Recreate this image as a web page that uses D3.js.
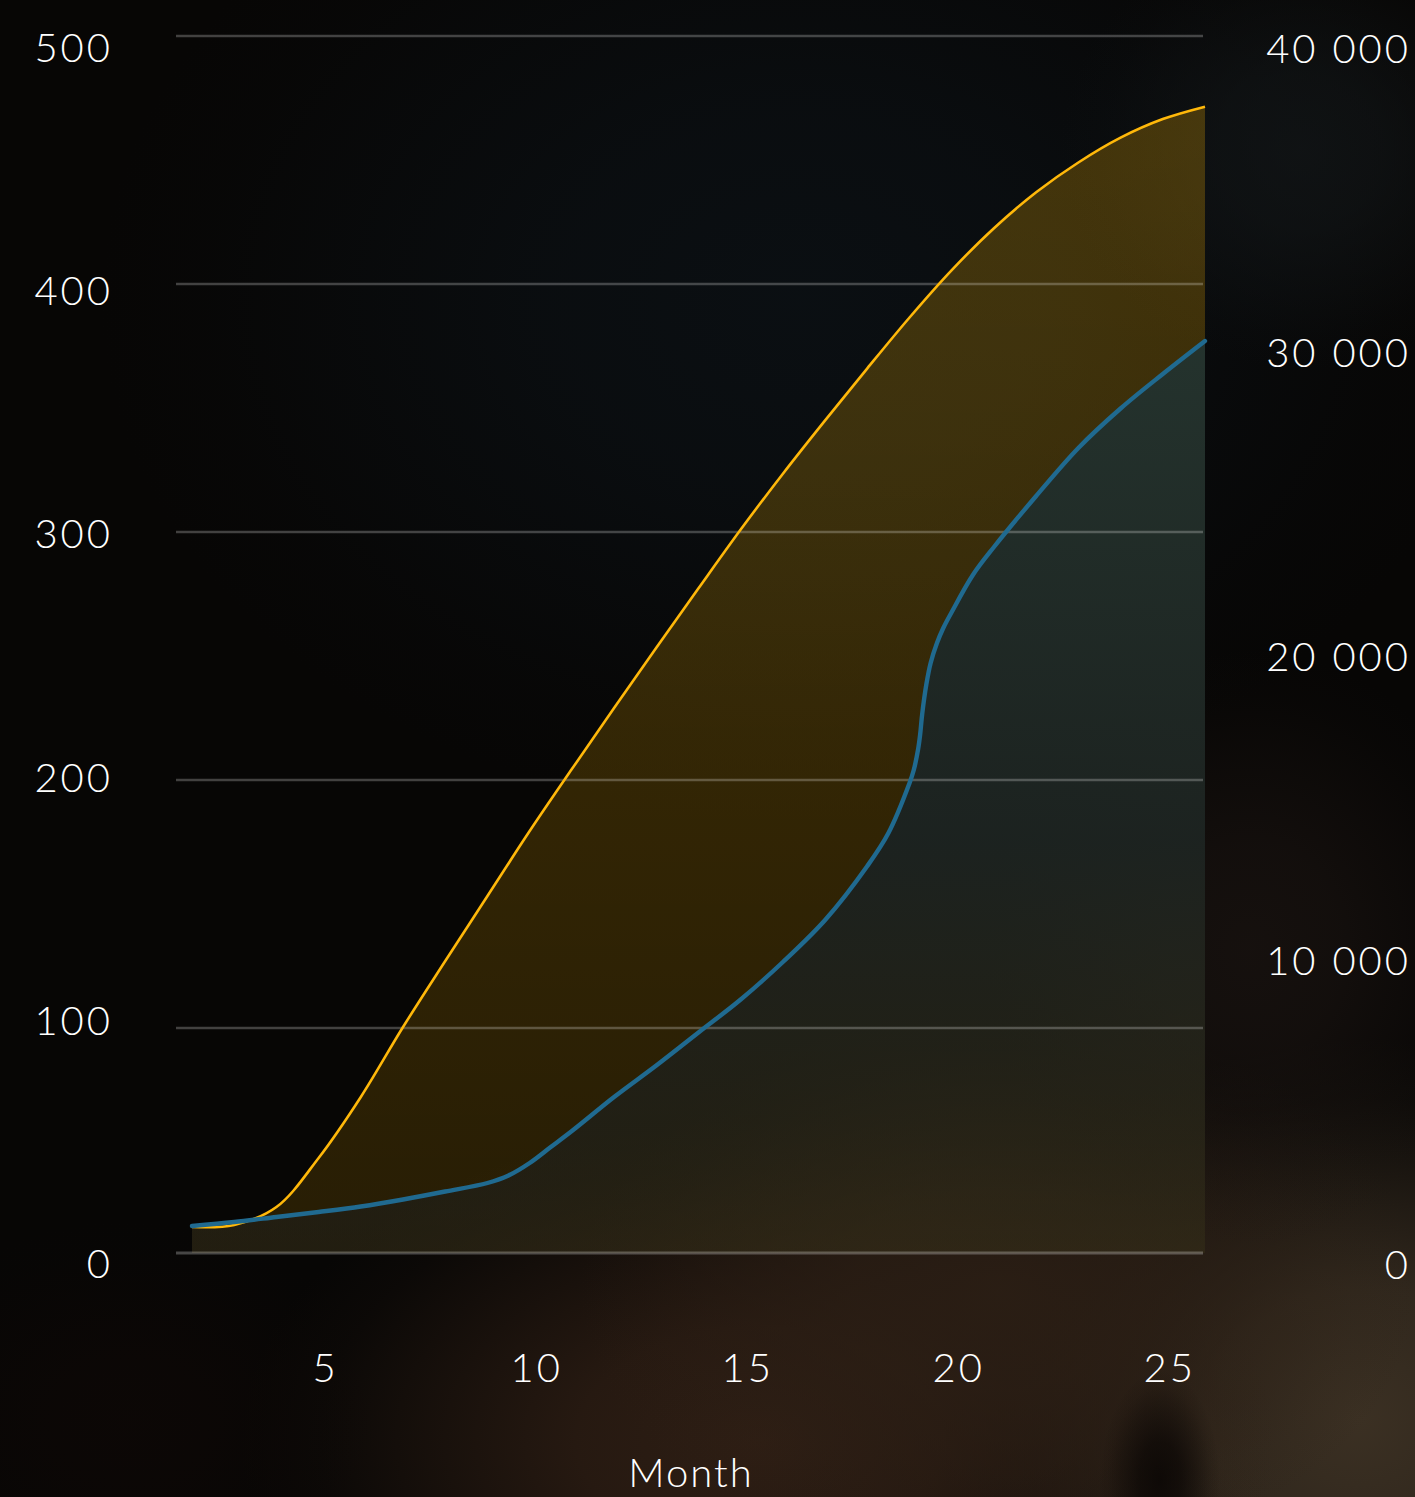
<!DOCTYPE html>
<html>
<head>
<meta charset="utf-8">
<script src="https://cdn.jsdelivr.net/npm/d3@7"></script>
<style>
  html, body { margin: 0; padding: 0; background: #090706; }
  svg { display: block; }
  text { font-family: Lato, "Open Sans", sans-serif; font-weight: 300; fill: #ffffff; }
</style>
</head>
<body>
<svg id="chart" width="1415" height="1497"></svg>
<script>
// Monthly series: gold on the left axis, blue on the right axis
const goldMonths = [2,3,4,5,6,7,8,9,10,11,12,13,14,15,16,17,18,19,20,21,22,23,24,25,26];
const goldValues = [19.8,20.6,27.8,47.6,72.2,100.4,127,153.2,179.4,204.4,229,253.3,277.3,301,323.5,345,366,386.5,405.6,422.5,437,449,459,466.5,471.5];

const blueMonths = [2,3,4,5,6,7,8,9,9.5,10,10.5,11,12,13,14,15,16,17,18,18.5,19,19.1,19.2,19.25,19.3,19.4,19.5,19.65,19.8,20,20.5,21,22,23,24,25,26];
const blueValues = [1613,1742,1903,2065,2242,2468,2726,3000,3242,3645,4161,4677,5774,6790,7855,8919,10129,11484,13226,14290,15903,16323,16968,17452,18129,19097,19774,20419,20903,21419,22613,23516,25161,26710,27984,29097,30161];

const xTicks = [5,10,15,20,25];
const leftTicks = [0,100,200,300,400,500];
const rightTicks = [0,10000,20000,30000,40000];
const xTitle = "Month";

const W = 1415, H = 1497;
const svg = d3.select("#chart");
const defs = svg.append("defs");

// ---------- soft backdrop made of overlapping radial glows ----------
const glows = [
  {cx: 800, cy: 300, rx: 700, ry: 520, c: "#0b1014", o: 0.9},
  {cx: 1300, cy: 150, rx: 240, ry: 220, c: "#131719", o: 0.7},
  {cx: 1360, cy: 1420, rx: 420, ry: 380, c: "#3b3023", o: 1},
  {cx: 760, cy: 1440, rx: 520, ry: 320, c: "#2e1e14", o: 1},
  {cx: 1000, cy: 1290, rx: 420, ry: 280, c: "#2c1f15", o: 0.9},
  {cx: 1250, cy: 950, rx: 260, ry: 300, c: "#1c1512", o: 0.7},
  {cx: 1160, cy: 1480, rx: 60, ry: 110, c: "#0b0705", o: 0.9},
  {cx: 130, cy: 1420, rx: 260, ry: 200, c: "#0f0806", o: 0.6}
];
glows.forEach((g, i) => {
  const rg = defs.append("radialGradient").attr("id", "glow" + i);
  [[0, 1], [0.35, 0.8], [0.65, 0.4], [0.85, 0.12], [1, 0]].forEach(([off, k]) => {
    rg.append("stop").attr("offset", off).attr("stop-color", g.c).attr("stop-opacity", g.o * k);
  });
});
const bg = svg.append("g");
bg.append("rect").attr("width", W).attr("height", H).attr("fill", "#070605");
glows.forEach((g, i) => {
  bg.append("ellipse").attr("cx", g.cx).attr("cy", g.cy).attr("rx", g.rx).attr("ry", g.ry)
    .attr("fill", `url(#glow${i})`);
});

// ---------- scales ----------
const plotLeft = 176, plotRight = 1203, plotBottom = 1253;
const x = d3.scaleLinear().domain([2, 26]).range([192, 1205]);
const yLeft = d3.scaleLinear().domain([0, 500]).range([1276, 36]);
const yRight = d3.scaleLinear().domain([0, 40000]).range([1276, 36]);
// tick labels sit on their own evenly spaced baselines
const labelLeft = d3.scaleLinear().domain([0, 500]).range([1278, 62]);
const labelRight = d3.scaleLinear().domain([0, 40000]).range([1279, 63]);

const gold = goldMonths.map((m, i) => ({m, v: goldValues[i]}));
const blue = blueMonths.map((m, i) => ({m, v: blueValues[i]}));

// ---------- area fills ----------
const gGrad = defs.append("linearGradient").attr("id", "goldFill")
  .attr("gradientUnits", "userSpaceOnUse").attr("x1", 0).attr("y1", 100).attr("x2", 0).attr("y2", plotBottom);
gGrad.append("stop").attr("offset", "0%").attr("stop-color", "#ffb800").attr("stop-opacity", 0.24);
gGrad.append("stop").attr("offset", "100%").attr("stop-color", "#ffb800").attr("stop-opacity", 0.13);

const bGrad = defs.append("linearGradient").attr("id", "blueFill")
  .attr("gradientUnits", "userSpaceOnUse").attr("x1", 0).attr("y1", 340).attr("x2", 0).attr("y2", plotBottom);
bGrad.append("stop").attr("offset", "0%").attr("stop-color", "#23332f").attr("stop-opacity", 0.96);
bGrad.append("stop").attr("offset", "55%").attr("stop-color", "#1a2222").attr("stop-opacity", 0.92);
bGrad.append("stop").attr("offset", "100%").attr("stop-color", "#1e1e1a").attr("stop-opacity", 0.55);

const curve = d3.curveCatmullRom.alpha(0.5);

svg.append("path").datum(gold)
  .attr("fill", "url(#goldFill)")
  .attr("d", d3.area().curve(curve).x(d => x(d.m)).y0(plotBottom).y1(d => yLeft(d.v)));

svg.append("path").datum(blue)
  .attr("fill", "url(#blueFill)")
  .attr("d", d3.area().curve(curve).x(d => x(d.m)).y0(plotBottom).y1(d => yRight(d.v)));

// ---------- grid ----------
const grid = svg.append("g");
leftTicks.filter(t => t > 0).forEach(t => {
  grid.append("line").attr("x1", plotLeft).attr("x2", plotRight)
    .attr("y1", yLeft(t)).attr("y2", yLeft(t))
    .attr("stroke", "#ffffff").attr("stroke-opacity", 0.24).attr("stroke-width", 2.5);
});
grid.append("line").attr("x1", plotLeft).attr("x2", plotRight)
  .attr("y1", plotBottom).attr("y2", plotBottom)
  .attr("stroke", "#ffffff").attr("stroke-opacity", 0.26).attr("stroke-width", 3);

// ---------- lines ----------
svg.append("path").datum(gold)
  .attr("fill", "none").attr("stroke", "#ffb80a").attr("stroke-width", 2.6)
  .attr("d", d3.line().curve(curve).x(d => x(d.m)).y(d => yLeft(d.v)));

svg.append("path").datum(blue)
  .attr("fill", "none").attr("stroke", "#206a90").attr("stroke-width", 4.4)
  .attr("stroke-linecap", "round").attr("stroke-linejoin", "round")
  .attr("d", d3.line().curve(curve).x(d => x(d.m)).y(d => yRight(d.v)));

// ---------- axis labels ----------
const fmtRight = v => d3.format(",")(v).replace(/,/g, " ");
const fs = 40;

svg.append("g").selectAll("text").data(leftTicks).join("text")
  .attr("x", 113).attr("y", d => labelLeft(d))
  .attr("text-anchor", "end").attr("font-size", fs).attr("letter-spacing", 3)
  .text(d => d);

svg.append("g").selectAll("text").data(rightTicks).join("text")
  .attr("x", 1411).attr("y", d => labelRight(d))
  .attr("text-anchor", "end").attr("font-size", fs).attr("letter-spacing", 3)
  .text(d => fmtRight(d));

svg.append("g").selectAll("text").data(xTicks).join("text")
  .attr("x", d => x(d) + 7).attr("y", 1382)
  .attr("text-anchor", "middle").attr("font-size", fs).attr("letter-spacing", 3)
  .text(d => d);

svg.append("text").attr("x", 691).attr("y", 1487)
  .attr("text-anchor", "middle").attr("font-size", fs).attr("letter-spacing", 2)
  .text(xTitle);
</script>
</body>
</html>
